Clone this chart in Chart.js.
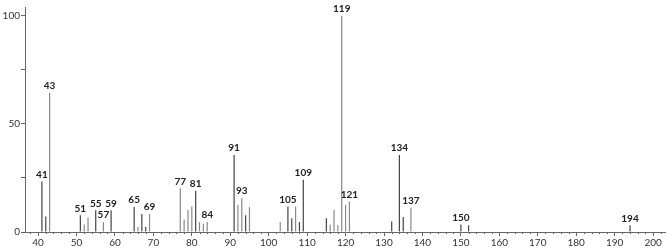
<!DOCTYPE html>
<html>
<head>
<meta charset="utf-8">
<script src="https://cdn.jsdelivr.net/npm/chart.js@4/dist/chart.umd.min.js"></script>
<style>
  html, body { margin: 0; padding: 0; background: #fff; }
  #wrap { width: 667px; height: 248px; }
</style>
</head>
<body>
<div id="wrap"><canvas id="ms" width="667" height="248"></canvas></div>
<script>
// m/z and relative abundance
const mz = [41, 42, 43, 51, 52, 53, 55, 57, 59, 65, 66, 67, 68, 69,
  77, 78, 79, 80, 81, 82, 83, 84, 91, 92, 93, 94, 95, 103, 105, 106,
  107, 108, 109, 115, 116, 117, 118, 119, 120, 121, 132, 134, 135, 137,
  150, 152, 194];
const abundance = [23.3, 7.2, 64.2, 7.7, 3.5, 6.6, 10, 4.6, 10, 11.5, 2.3, 8.3, 2.3, 8.3,
  20.2, 5.8, 10.3, 11.8, 19.1, 4.6, 3.8, 4.6, 35.6, 12.6, 15.6, 7.7, 11.5, 4.6, 11.8, 6.3,
  11.8, 4.6, 24.2, 6.3, 3.4, 10.3, 3.1, 100, 12.6, 14.1, 4.9, 35.6, 6.9, 11.2,
  3.5, 3.1, 3.1];
// peaks that carry a label
const labelled = [41, 43, 51, 55, 57, 59, 65, 69, 77, 81, 84, 91, 93, 105, 109, 119, 121, 134, 137, 150, 194];
// darker drawn lines
const darkPeaks = [41, 42, 51, 55, 59, 65, 67, 68, 81, 91, 94, 105, 106, 108, 109, 115, 132, 134, 135, 150, 152, 194];

const xTicks = [40, 50, 60, 70, 80, 90, 100, 110, 120, 130, 140, 150, 160, 170, 180, 190, 200];
const yTicks = [0, 50, 100];

const peakLabels = {
  id: 'peakLabels',
  afterDatasetsDraw(chart) {
    const { ctx, scales: { x, y } } = chart;
    ctx.save();
    ctx.font = 'bold 10px Lato';
    ctx.fillStyle = '#222';
    ctx.textAlign = 'center';
    ctx.textBaseline = 'bottom';
    mz.forEach((m, i) => {
      if (!labelled.includes(m)) return;
      let top = abundance[i];
      if (m === 84) top = Math.max(top, abundance[mz.indexOf(83)]);
      ctx.fillText(String(m), x.getPixelForValue(m), y.getPixelForValue(top) - 2);
    });
    ctx.restore();
  }
};

// small ticks every 2 units on the m/z axis
const minorTicks = {
  id: 'minorTicks',
  afterDraw(chart) {
    const { ctx, scales: { x } } = chart;
    ctx.save();
    ctx.strokeStyle = '#666';
    ctx.lineWidth = 1;
    ctx.beginPath();
    for (let v = 38; v <= 202; v += 2) {
      if (v % 10 === 0) continue;
      const px = Math.round(x.getPixelForValue(v)) + 0.5;
      ctx.moveTo(px, x.top);
      ctx.lineTo(px, x.top + 2);
    }
    ctx.stroke();
    ctx.restore();
  }
};

new Chart(document.getElementById('ms'), {
  type: 'bar',
  data: {
    datasets: [{
      data: mz.map((m, i) => ({ x: m, y: abundance[i] })),
      backgroundColor: (c) => darkPeaks.includes(mz[c.dataIndex]) ? '#444' : '#888',
      barThickness: 1.2,
      borderWidth: 0,
      inflateAmount: 0,
    }]
  },
  options: {
    responsive: false,
    animation: false,
    layout: { padding: { top: 5, right: 2, left: 0, bottom: 0 } },
    plugins: { legend: { display: false }, tooltip: { enabled: false } },
    scales: {
      x: {
        type: 'linear',
        offset: false,
        min: 36.6,
        max: 203.1,
        afterFit: (s) => { s.height = 16; },
        afterBuildTicks: (s) => { s.ticks = xTicks.map((v) => ({ value: v })); },
        ticks: { font: { family: 'Lato', size: 10 }, color: '#333', padding: 1, maxRotation: 0, autoSkip: false },
        grid: { offset: false, drawOnChartArea: false, drawTicks: true, tickLength: 4, color: '#666' },
        border: { display: true, color: '#666' },
      },
      y: {
        min: 0,
        max: 104,
        afterFit: (s) => { s.width = 25; },
        afterBuildTicks: (s) => { s.ticks = [0, 25, 50, 75, 100].map((v) => ({ value: v })); },
        ticks: {
          font: { family: 'Lato', size: 10 }, color: '#333', padding: 1,
          callback: (v) => yTicks.includes(v) ? String(v) : '',
        },
        grid: { drawOnChartArea: false, drawTicks: true, tickLength: 4, color: '#666' },
        border: { display: true, color: '#666' },
      }
    }
  },
  plugins: [peakLabels, minorTicks]
});
</script>
</body>
</html>
